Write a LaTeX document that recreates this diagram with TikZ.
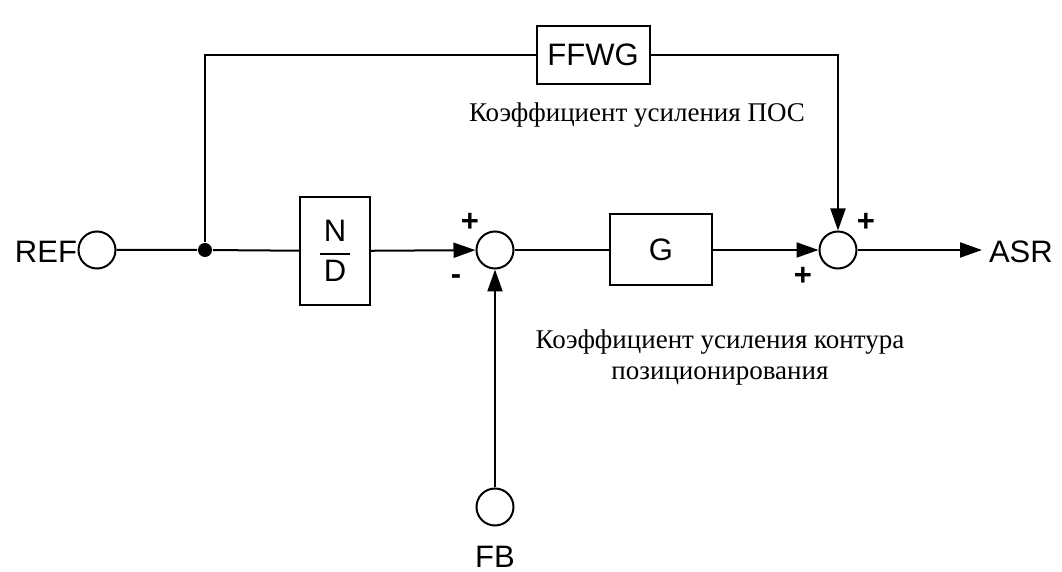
\documentclass[tikz,border=0pt]{standalone}
\usepackage{fontspec}
\setmainfont{Liberation Serif}
\newfontfamily\arialfont{Liberation Sans}
\usetikzlibrary{arrows.meta}

\begin{document}
\begin{tikzpicture}[x=0.5pt, y=-0.5pt, line width=1pt,
  >={Triangle[length=11pt, width=7.5pt]},
  sigbox/.style={draw, inner sep=0pt, font=\arialfont\fontsize{15.5}{18}\selectfont},
  sumnode/.style={draw, circle, minimum size=18.5pt, inner sep=0pt},
  sig/.style={font=\arialfont\fontsize{15.5}{18}\selectfont, inner sep=0pt},
  note/.style={font=\fontsize{13.5}{15.5}\selectfont, align=center, inner sep=0pt}]
\useasboundingbox (0,0) rectangle (1062,572);
\node[sumnode] (ref) at (97,250) {};
\node[sig, anchor=east] (reflbl) at (78,252) {REF};
\node[circle, fill, minimum size=7pt, inner sep=0pt] (split) at (205,250) {};
\node[sigbox, minimum width=56.5pt, minimum height=29pt] (ffwg) at (593,55) {FFWG};
\node[sigbox, minimum width=35pt, minimum height=54pt] (nd) at (335,251)
  {$\displaystyle{\mbox{\hspace{2pt}N\hspace{2pt}}\above1pt\mbox{D}}$};
\node[sumnode] (sum1) at (495,250) {};
\node[sigbox, minimum width=51pt, minimum height=35.5pt] (g) at (661,250) {G};
\node[sumnode] (sum2) at (838,250) {};
\node[sumnode] (fb) at (495,507) {};
\node[sig] (fblbl) at (495,557) {FB};
\coordinate (asr) at (982,250);
\node[sig, anchor=west] (asrlbl) at (988,252) {ASR};
\node[sig] (p1) at (470,222) {\textbf{+}};
\node[sig] (m1) at (456,280) {\textbf{-}};
\node[sig] (p2) at (866,222) {\textbf{+}};
\node[sig] (p3) at (803,276) {\textbf{+}};
\node[note] (ffwgnote) at (637,115) {Коэффициент усиления ПОС};
\node[note] (gnote) at (720,358) {Коэффициент усиления контура\\позиционирования};
\draw (ref) -- (split) -- (nd);
\draw[->] (nd) -- (sum1);
\draw (sum1) -- (g);
\draw[->] (g) -- (sum2);
\draw[->] (sum2) -- (asr);
\draw[->] (fb) -- (sum1);
\draw (split) |- (ffwg);
\draw[->] (ffwg) -| (sum2);
\end{tikzpicture}
\end{document}
